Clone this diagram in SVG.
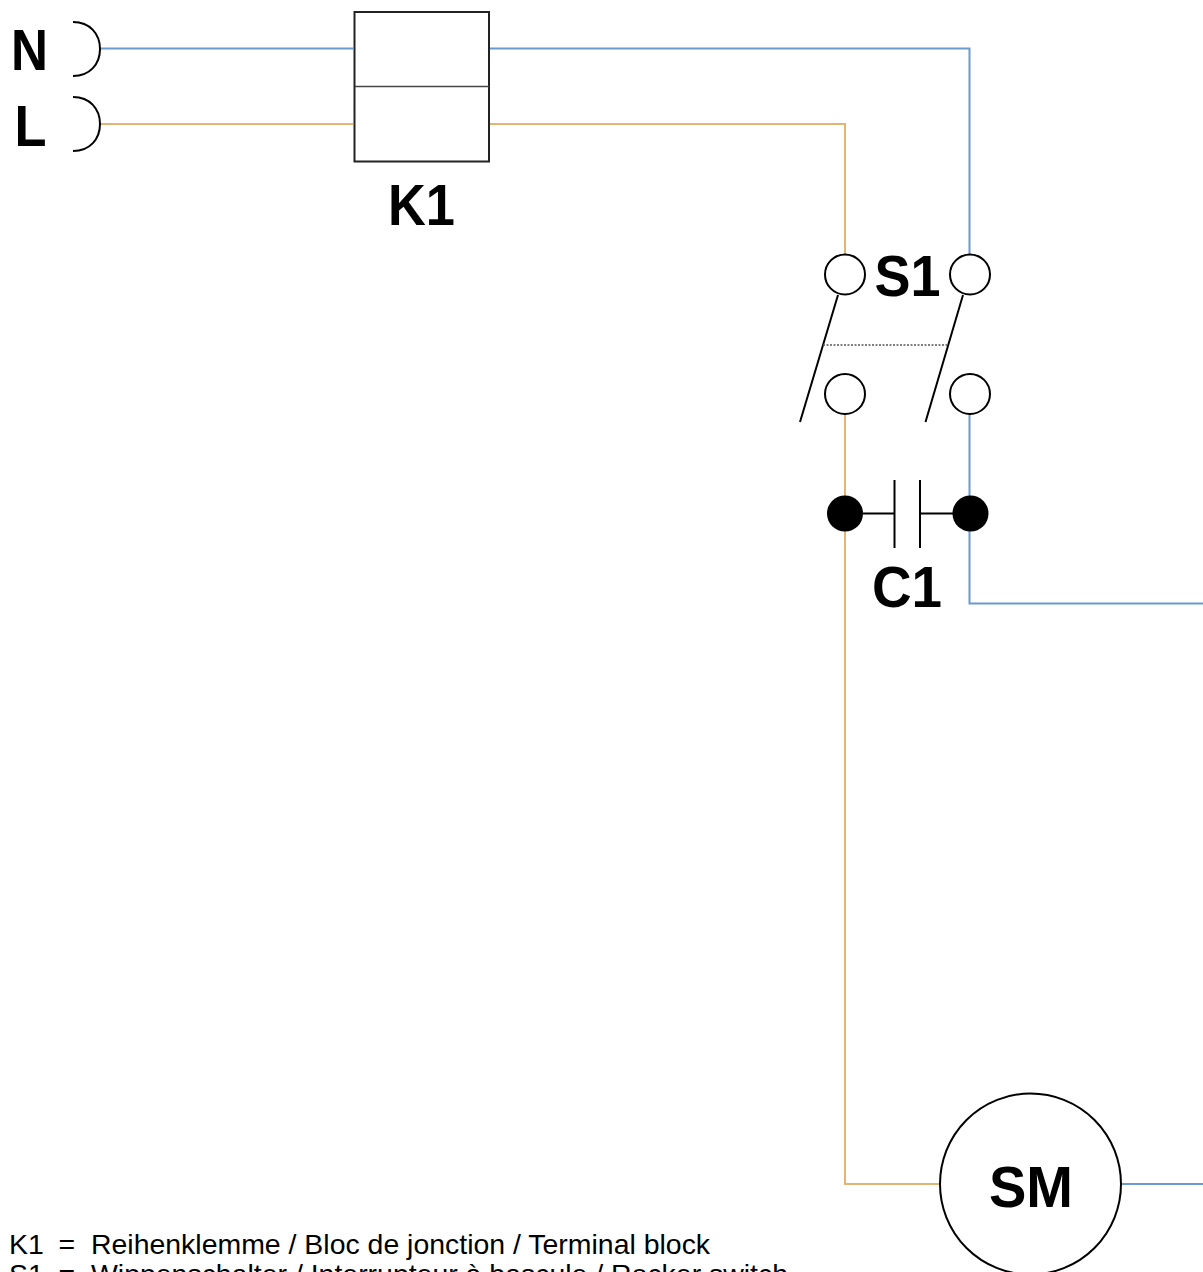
<svg xmlns="http://www.w3.org/2000/svg" width="1203" height="1272" viewBox="0 0 1203 1272">
<style>
text{font-family:"Liberation Sans",Arial,sans-serif;fill:#000}
.b{font-weight:700;font-size:58px;text-anchor:middle}
.t{font-size:28.450px}
.w{fill:none;stroke-width:2}
.bl{stroke:#6a9ad0}
.or{stroke:#e2b574}
.k{fill:none;stroke:#000;stroke-width:2}
.o{fill:#fff;stroke:#000;stroke-width:2}
</style>
<rect width="1203" height="1272" fill="#fff"/>
<g id="connectors">
<path class="w bl" d="M101 48.500H353"/>
<path class="w or" d="M101 124H353"/>
<path class="w bl" d="M490 48.500H969.500V254"/>
<path class="w or" d="M490 124H845V254"/>
<path class="w bl" d="M969.500 414V603.500H1203"/>
<path class="w or" d="M845 414V1184H940"/>
<path class="w bl" d="M1121 1184H1203"/>
</g>
<g id="N"><text class="b" x="29.500" y="70" textLength="37" lengthAdjust="spacingAndGlyphs">N</text><path class="k" d="M73 22C90 22 100 34 100 49S90 76 73 76"/></g>
<g id="L"><text class="b" x="30.500" y="146" textLength="32" lengthAdjust="spacingAndGlyphs">L</text><path class="k" d="M73 97C90 97 100 109 100 124S90 151 73 151"/></g>
<g id="K1"><rect x="354.500" y="12" width="134.500" height="149.500" fill="#fff" stroke="#222" stroke-width="2"/><path d="M355 86.500H489" stroke="#444" stroke-width="1.500"/><text class="b" x="421.500" y="225" textLength="67" lengthAdjust="spacingAndGlyphs">K1</text></g>
<g id="S1">
<circle class="o" cx="845" cy="274.500" r="20"/><circle class="o" cx="970" cy="274.500" r="20"/>
<circle class="o" cx="845" cy="394" r="20"/><circle class="o" cx="970" cy="394" r="20"/>
<path class="k" d="M838 295L800 422M963 295L925.500 422"/>
<path d="M823 345H948" stroke="#555" stroke-width="1.500" stroke-dasharray="2 1.500" fill="none"/>
<text class="b" x="907.500" y="296" textLength="66" lengthAdjust="spacingAndGlyphs">S1</text>
</g>
<g id="C1">
<circle cx="845" cy="513.500" r="18"/><circle cx="970.500" cy="513.500" r="18"/>
<path class="k" d="M863 513.500H893.500M920 513.500H953M894.500 480V548M920 480V548"/>
<text class="b" x="907" y="607" textLength="70" lengthAdjust="spacingAndGlyphs">C1</text>
</g>
<g id="SM"><circle cx="1030.500" cy="1184" r="90.500" fill="#fff" stroke="#000" stroke-width="2"/><text class="b" x="1031" y="1207" textLength="84" lengthAdjust="spacingAndGlyphs">SM</text></g>
<g id="legend">
<text class="t" x="9" y="1254">K1</text><text class="t" x="58.500" y="1254">=</text><text class="t" x="91" y="1254">Reihenklemme / Bloc de jonction / Terminal block</text>
<text class="t" x="9" y="1284">S1</text><text class="t" x="58.500" y="1284">=</text><text class="t" x="91" y="1284">Wippenschalter / Interrupteur à bascule / Rocker switch</text>
</g>
</svg>
